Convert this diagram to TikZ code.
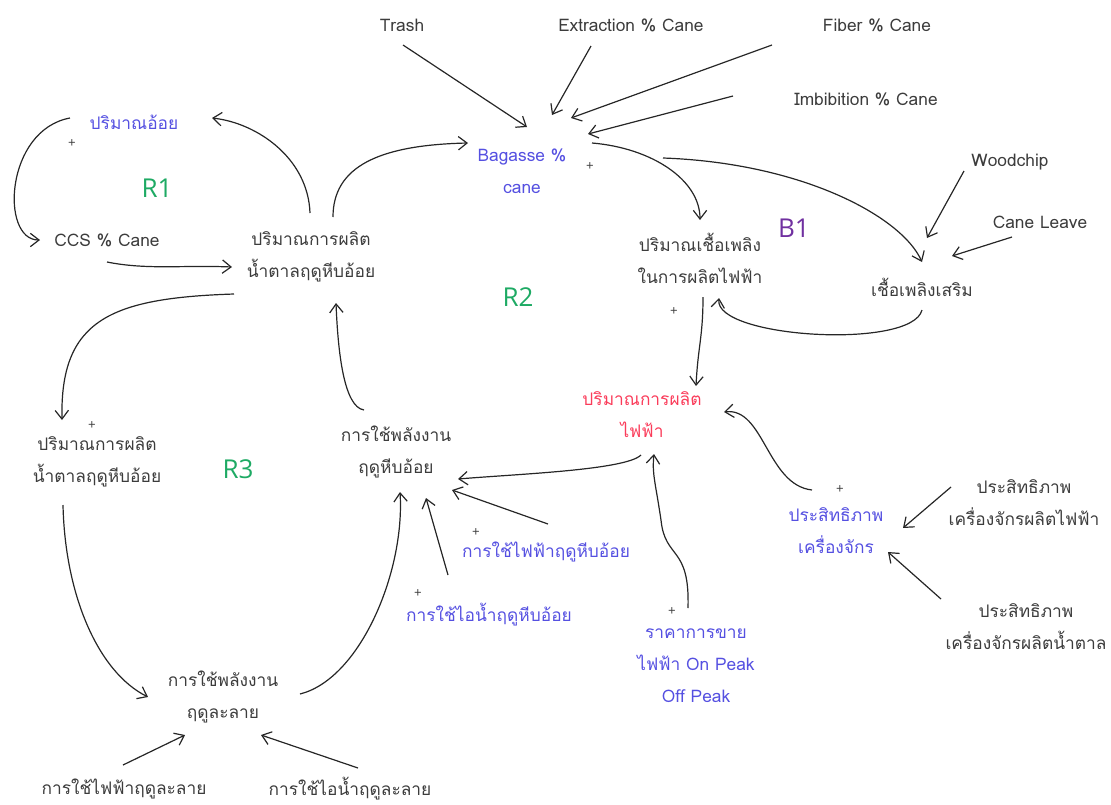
\documentclass[tikz,border=0pt]{standalone}
\usepackage{fontspec}
\newfontfamily\thaifont[Script=Thai]{Loma}
\newfontfamily\latinfont{Open Sans}
\usetikzlibrary{arrows.meta}
\definecolor{txt}{RGB}{60,60,60}
\definecolor{vblue}{RGB}{85,80,225}
\definecolor{vred}{RGB}{250,60,90}
\definecolor{vgreen}{RGB}{30,170,100}
\definecolor{vpurple}{RGB}{112,48,160}
\tikzset{
 lbl/.style={font=\thaifont\fontsize{13}{24}\selectfont, text=txt, align=center, inner sep=1pt},
 blu/.style={lbl, text=vblue},
 rd/.style={lbl, text=vred},
 looplbl/.style={font=\latinfont\fontsize{19.5}{22}\selectfont, inner sep=0pt},
 pl/.style={font=\latinfont\fontsize{10}{10}\selectfont, text=txt, inner sep=0pt},
 arr/.style={-{Straight Barb[length=6.5pt,width=10pt]}, line width=0.9pt, draw=black!85}
}
\begin{document}
\begin{tikzpicture}[x=0.75pt,y=-0.75pt]
\useasboundingbox (0,0) rectangle (1111,804);
% nodes
\node[lbl] (trash) at (402,25) {Trash};
\node[lbl] (extr) at (631,25) {Extraction \% Cane};
\node[lbl] (fiber) at (877,25) {Fiber \% Cane};
\node[lbl] (imb) at (866,99) {Imbibition \% Cane};
\node[blu] (cane) at (134,122) {ปริมาณอ้อย};
\node[blu] (bag) at (522,171) {Bagasse \%\\cane};
\node[lbl] (wood) at (1010,162) {Woodchip};
\node[lbl] (leave) at (1040,222) {Cane Leave};
\node[lbl] (ccs) at (107,240) {CCS \% Cane};
\node[lbl] (sugar) at (311,257) {ปริมาณการผลิต\\น้ำตาลฤดูหีบอ้อย};
\node[lbl] (fuel) at (700,258) {ปริมาณเชื้อเพลิง\\ในการผลิตไฟฟ้า};
\node[lbl] (extra) at (922,287) {เชื้อเพลิงเสริม};
\node[rd] (elec) at (642,415) {ปริมาณการผลิต\\ไฟฟ้า};
\node[lbl] (sugar2) at (97,462) {ปริมาณการผลิต\\น้ำตาลฤดูหีบอ้อย};
\node[lbl] (ecrush) at (396,452) {การใช้พลังงาน\\ฤดูหีบอ้อย};
\node[blu] (eff) at (836,531) {ประสิทธิภาพ\\เครื่องจักร};
\node[lbl] (effe) at (1024,503) {ประสิทธิภาพ\\เครื่องจักรผลิตไฟฟ้า};
\node[blu] (elecuse) at (546,552) {การใช้ไฟฟ้าฤดูหีบอ้อย};
\node[blu] (steamuse) at (489,615) {การใช้ไอน้ำฤดูหีบอ้อย};
\node[blu] (price) at (696,666) {ราคาการขาย\\ไฟฟ้า On Peak\\Off Peak};
\node[lbl] (effs) at (1026,627) {ประสิทธิภาพ\\เครื่องจักรผลิตน้ำตาล};
\node[lbl] (emelt) at (223,697) {การใช้พลังงาน\\ฤดูละลาย};
\node[lbl] (melec) at (124,789) {การใช้ไฟฟ้าฤดูละลาย};
\node[lbl] (msteam) at (350,789) {การใช้ไอน้ำฤดูละลาย};
% loop labels
\node[looplbl, text=vgreen] (r1) at (157,188) {R1};
\node[looplbl, text=vgreen] (r2) at (518,297) {R2};
\node[looplbl, text=vgreen] (r3) at (238,469) {R3};
\node[looplbl, text=vpurple] (b1) at (794,228) {B1};
% plus signs
\node[pl] (p1) at (72,144) {+};
\node[pl] (p2) at (590,167) {+};
\node[pl] (p3) at (674,312) {+};
\node[pl] (p4) at (92,426) {+};
\node[pl] (p5) at (840,490) {+};
\node[pl] (p6) at (476,533) {+};
\node[pl] (p7) at (418,594) {+};
\node[pl] (p8) at (672,612) {+};
% connectors
\draw[arr] ([shift={(1,20)}]trash.center) -- ([shift={(5,-44)}]bag.center);
\draw[arr] ([shift={(-40,21)}]extr.center) -- ([shift={(30,-56)}]bag.center);
\draw[arr] ([shift={(-105,20)}]fiber.center) -- ([shift={(49,-53)}]bag.center);
\draw[arr] ([shift={(-133,-3)}]imb.center) -- ([shift={(66,-37)}]bag.center);
\draw[arr] ([shift={(22,-40)}]sugar.center) .. controls +(0,-50) and +(-90,2) .. ([shift={(-54,-28)}]bag.center);
\draw[arr] ([shift={(-1,-44)}]sugar.center) .. controls +(-2,-55) and +(45,5) .. ([shift={(78,-4)}]cane.center);
\draw[arr] ([shift={(-64,-4)}]cane.center) .. controls +(-65,12) and +(-40,0) .. ([shift={(-67,0)}]ccs.center);
\draw[arr] ([shift={(0,22)}]ccs.center) .. controls +(40,8) and +(-50,-2) .. ([shift={(-79,10)}]sugar.center);
\draw[arr] ([shift={(-77,37)}]sugar.center) .. controls +(-124,4) and +(-2,-100) .. ([shift={(-35,-42)}]sugar2.center);
\draw[arr] ([shift={(-34,43)}]sugar2.center) .. controls +(2,90) and +(-50,-25) .. ([shift={(-75,0)}]emelt.center);
\draw[arr] ([shift={(77,-3)}]emelt.center) .. controls +(60,-15) and +(5,80) .. ([shift={(4,40)}]ecrush.center);
\draw[arr] ([shift={(-32,-42)}]ecrush.center) .. controls +(-20,-3) and +(2,50) .. ([shift={(25,46)}]sugar.center);
\draw[arr] ([shift={(70,-28)}]bag.center) .. controls +(60,5) and +(0,-40) .. ([shift={(0,-38)}]fuel.center);
\draw[arr] ([shift={(141,-13)}]bag.center) .. controls +(140,5) and +(-20,-45) .. ([shift={(0,-25)}]extra.center);
\draw[arr] ([shift={(-46,9)}]wood.center) -- ([shift={(5,-49)}]extra.center);
\draw[arr] ([shift={(-28,15)}]leave.center) -- ([shift={(30,-31)}]extra.center);
\draw[arr] ([shift={(0,23)}]extra.center) .. controls +(-10,40) and +(-5,40) .. ([shift={(19,40)}]fuel.center);
\draw[arr] ([shift={(3,39)}]fuel.center) .. controls +(0,40) and +(2,-40) .. ([shift={(54,-29)}]elec.center);
\draw[arr] ([shift={(-1,40)}]elec.center) .. controls +(-15,15) and +(60,-5) .. ([shift={(62,27)}]ecrush.center);
\draw[arr] ([shift={(2,-28)}]elecuse.center) -- ([shift={(56,38)}]ecrush.center);
\draw[arr] ([shift={(-41,-40)}]steamuse.center) -- ([shift={(30,46)}]ecrush.center);
\draw[arr] ([shift={(-8,-58)}]price.center) .. controls +(2,-63) and +(4,40) .. (661,520) .. controls +(-6,-40) and +(-2,20) .. ([shift={(12,39)}]elec.center);
\draw[arr] ([shift={(-24,-41)}]eff.center) .. controls +(-45,-5) and +(40,-5) .. ([shift={(82,-3)}]elec.center);
\draw[arr] ([shift={(-73,-16)}]effe.center) -- ([shift={(67,-3)}]eff.center);
\draw[arr] ([shift={(-85,-28)}]effs.center) -- ([shift={(52,21)}]eff.center);
\draw[arr] ([shift={(-1,-24)}]melec.center) -- ([shift={(-38,38)}]emelt.center);
\draw[arr] ([shift={(8,-21)}]msteam.center) -- ([shift={(38,38)}]emelt.center);
\end{tikzpicture}
\end{document}
